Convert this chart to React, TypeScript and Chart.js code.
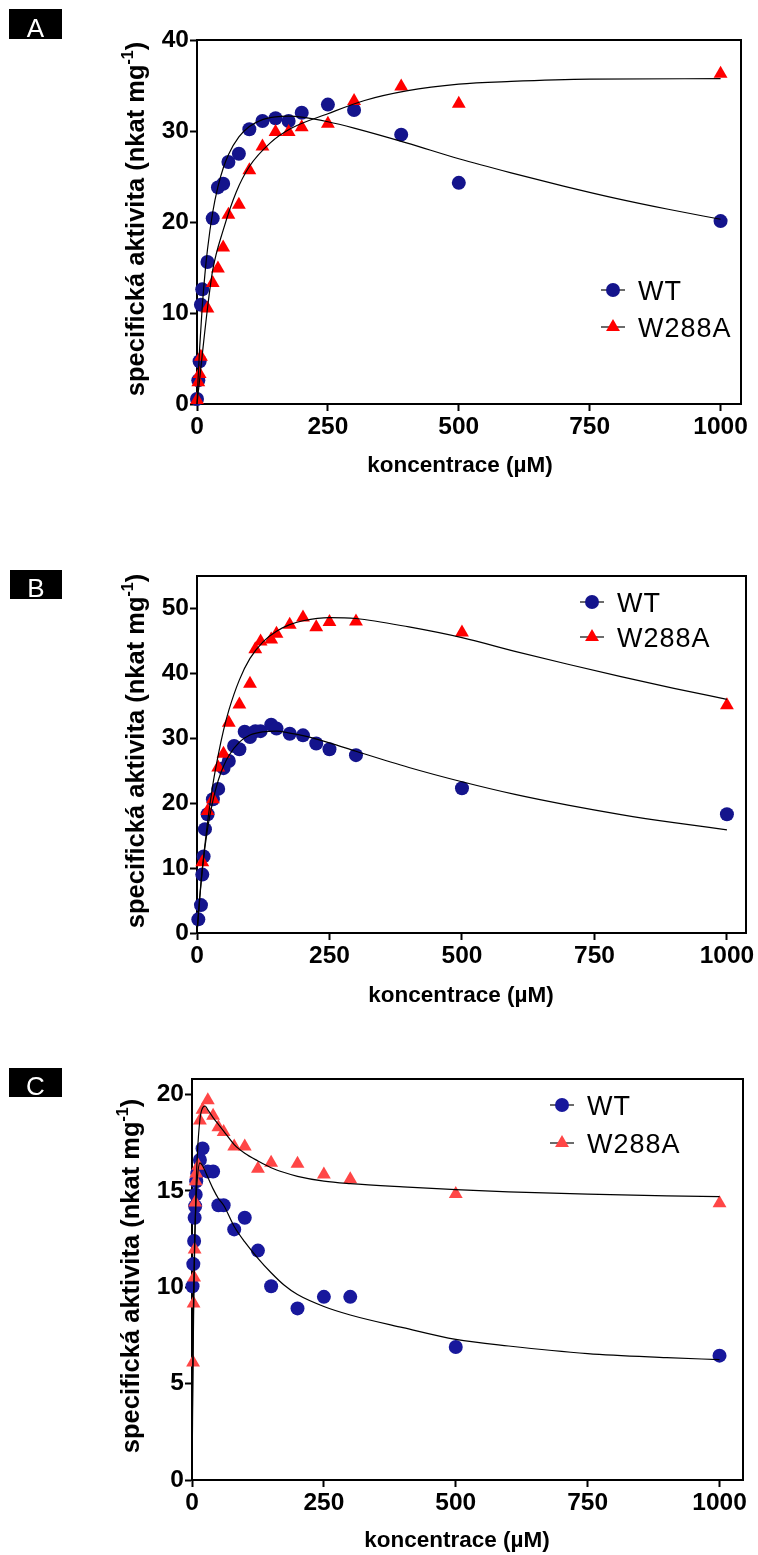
import React, { useEffect, useRef } from 'react';
import { Chart, registerables } from 'chart.js';
import { drawPoint } from 'chart.js/helpers';

Chart.register(...registerables);

const FONT = '"Liberation Sans", Arial, Helvetica, sans-serif';

// ---------- Panel A ----------
const aWtX = [0, 2.5, 5, 7.5, 10, 20, 30, 40, 50, 60, 80, 100, 125, 150, 175, 200, 250, 300, 390, 500, 1000];
const aWtY = [0.55, 2.6, 4.7, 10.9, 12.6, 15.6, 20.4, 23.8, 24.2, 26.6, 27.5, 30.2, 31.1, 31.4, 31.1, 32.0, 32.9, 32.3, 29.6, 24.3, 20.1];
const aMutX = [0, 2.5, 5, 7.5, 20, 30, 40, 50, 60, 80, 100, 125, 150, 175, 200, 250, 300, 390, 500, 1000];
const aMutY = [0.45, 2.4, 3.3, 5.2, 10.5, 13.3, 14.9, 17.2, 20.8, 21.9, 25.7, 28.3, 29.9, 29.9, 30.4, 30.8, 33.3, 34.9, 33.0, 36.3];
const aWtFitX = [0, 2, 5, 10, 15, 20, 30, 40, 50, 60, 80, 100, 125, 150, 175, 200, 250, 300, 400, 500, 600, 700, 800, 900, 1000];
const aWtFitY = [0, 2.67, 6.11, 10.67, 14.19, 16.98, 21.07, 23.89, 25.91, 27.4, 29.35, 30.49, 31.25, 31.56, 31.63, 31.53, 31.02, 30.32, 28.7, 26.95, 25.4, 23.95, 22.6, 21.4, 20.3];
const aMutFitX = [0, 5, 10, 20, 30, 50, 75, 100, 140, 180, 250, 320, 400, 500, 600, 750, 1000];
const aMutFitY = [0, 2.7, 5.4, 10.5, 14.7, 19.1, 23.3, 26.1, 28.7, 30.3, 31.9, 33.35, 34.4, 35.15, 35.45, 35.7, 35.75];

// ---------- Panel B ----------
const bWtX = [2.5, 7.5, 10, 12.5, 15, 20, 30, 40, 50, 60, 70, 80, 90, 100, 110, 120, 140, 150, 175, 200, 225, 250, 300, 500, 1000];
const bWtY = [2.1, 4.3, 9.0, 11.8, 16.0, 18.3, 20.6, 22.2, 25.4, 26.5, 28.8, 28.3, 31.0, 30.2, 31.1, 31.1, 32.1, 31.5, 30.7, 30.45, 29.2, 28.3, 27.4, 22.3, 18.3];
const bMutX = [10, 20, 30, 40, 50, 60, 80, 100, 110, 120, 140, 150, 175, 200, 225, 250, 300, 500, 1000];
const bMutY = [10.9, 18.8, 20.6, 25.5, 27.6, 32.4, 35.2, 38.4, 43.7, 44.9, 45.2, 46.1, 47.5, 48.6, 47.1, 47.9, 48.0, 46.3, 35.1];
const bWtFitX = [0, 5, 10, 20, 30, 40, 50, 60, 80, 100, 125, 150, 175, 200, 250, 300, 400, 500, 600, 700, 800, 900, 1000];
const bWtFitY = [0, 5.4, 9.8, 16.1, 20.4, 23.5, 25.7, 27.3, 29.4, 30.5, 31.0, 31.1, 30.8, 30.4, 29.3, 28.0, 25.5, 23.3, 21.35, 19.7, 18.25, 17.0, 15.9];
const bMutFitX = [0, 5, 10, 20, 30, 40, 50, 60, 80, 100, 125, 150, 175, 200, 250, 300, 400, 500, 600, 700, 800, 900, 1000];
const bMutFitY = [0, 5.2, 9.8, 17.1, 22.9, 27.4, 31.2, 34.3, 39.0, 42.3, 44.9, 46.5, 47.5, 48.1, 48.6, 48.45, 47.15, 45.5, 43.4, 41.4, 39.5, 37.7, 36.0];

// ---------- Panel C ----------
const cWtX = [1, 2.5, 4, 5, 6, 7, 8, 10, 15, 20, 30, 40, 50, 60, 80, 100, 125, 150, 200, 250, 300, 500, 1000];
const cWtY = [10.05, 11.2, 12.4, 13.6, 14.2, 14.8, 15.5, 15.9, 16.6, 17.2, 16.0, 16.0, 14.25, 14.25, 13.0, 13.6, 11.9, 10.05, 8.9, 9.5, 9.5, 6.9, 6.45];
const cMutX = [2, 3, 4, 5, 6, 7, 8, 12, 15, 20, 30, 40, 50, 60, 80, 100, 125, 150, 200, 250, 300, 500, 1000];
const cMutY = [6.1, 9.15, 10.5, 11.95, 14.4, 15.5, 15.9, 16.3, 18.65, 19.2, 19.7, 18.9, 18.3, 18.05, 17.3, 17.3, 16.15, 16.45, 16.4, 15.84, 15.6, 14.83, 14.36];
const cWtFitX = [0, 0.5, 1, 2, 3, 5, 7.5, 10, 15, 20, 30, 40, 50, 60, 80, 100, 125, 150, 175, 200, 250, 300, 400, 500, 600, 750, 900, 1000];
const cWtFitY = [0, 2.5, 4.5, 7.5, 9.6, 12.4, 14.4, 15.6, 16.45, 16.3, 15.7, 15.1, 14.6, 14.25, 13.15, 12.35, 11.5, 10.75, 10.1, 9.62, 9.0, 8.56, 7.9, 7.29, 6.95, 6.56, 6.35, 6.24];
const cMutFitX = [0, 1, 2, 3, 5, 7.5, 10, 15, 20, 25, 30, 40, 50, 60, 80, 100, 125, 150, 175, 200, 250, 300, 400, 500, 600, 750, 900, 1000];
const cMutFitY = [0, 3, 6, 8.5, 12, 15, 16.8, 18.7, 19.3, 19.4, 19.2, 18.8, 18.45, 18.1, 17.4, 16.95, 16.55, 16.2, 15.95, 15.75, 15.5, 15.37, 15.2, 15.06, 14.95, 14.83, 14.74, 14.7];

// ---------- shared labels ----------
const xTicks = [0, 250, 500, 750, 1000];
const yTicksA = [0, 10, 20, 30, 40];
const yTicksB = [0, 10, 20, 30, 40, 50];
const yTicksC = [0, 5, 10, 15, 20];
const seriesNames = ['WT', 'W288A'];
const xTitle = 'koncentrace (µM)';
const yTitleMain = 'specifická aktivita (nkat mg';
const yTitleSup = '-1';
const yTitleTail = ')';

type Box = { left: number; top: number; right: number; bottom: number };
type PanelDef = {
  tag: string;
  canvasTop: number;
  canvasHeight: number;
  area: Box;
  xMax: number;
  yMax: number;
  yTicks: number[];
  wt: [number[], number[]];
  mut: [number[], number[]];
  wtFit: [number[], number[]];
  mutFit: [number[], number[]];
  navy: string;
  red: string;
  xTitlePos: [number, number];
  yTitlePos: [number, number];
  legend: { x: number; y: number; gap: number; half: number; textX: number };
  tagBox: { left: number; top: number; width: number; height: number };
};

const panels: PanelDef[] = [
  {
    tag: 'A', canvasTop: 0, canvasHeight: 520,
    area: { left: 197, top: 40, right: 741, bottom: 404 },
    xMax: 1039, yMax: 40, yTicks: yTicksA,
    wt: [aWtX, aWtY], mut: [aMutX, aMutY], wtFit: [aWtFitX, aWtFitY], mutFit: [aMutFitX, aMutFitY],
    navy: '#14148c', red: '#ff0000',
    xTitlePos: [460, 466], yTitlePos: [137, 219],
    legend: { x: 613, y: 290, gap: 37, half: 12, textX: 638 },
    tagBox: { left: 9, top: 9, width: 53, height: 30 },
  },
  {
    tag: 'B', canvasTop: 520, canvasHeight: 520,
    area: { left: 197, top: 576, right: 746, bottom: 933 },
    xMax: 1036, yMax: 55, yTicks: yTicksB,
    wt: [bWtX, bWtY], mut: [bMutX, bMutY], wtFit: [bWtFitX, bWtFitY], mutFit: [bMutFitX, bMutFitY],
    navy: '#14148c', red: '#ff0000',
    xTitlePos: [461, 996], yTitlePos: [137, 751],
    legend: { x: 592, y: 602, gap: 35, half: 12, textX: 617 },
    tagBox: { left: 10, top: 570, width: 52, height: 29 },
  },
  {
    tag: 'C', canvasTop: 1040, canvasHeight: 515,
    area: { left: 192, top: 1079, right: 743, bottom: 1480 },
    xMax: 1044.5, yMax: 20.8, yTicks: yTicksC,
    wt: [cWtX, cWtY], mut: [cMutX, cMutY], wtFit: [cWtFitX, cWtFitY], mutFit: [cMutFitX, cMutFitY],
    navy: '#18189c', red: '#ff4646',
    xTitlePos: [457, 1541], yTitlePos: [132, 1276],
    legend: { x: 562, y: 1105, gap: 38, half: 12, textX: 587 },
    tagBox: { left: 9, top: 1068, width: 53, height: 29 },
  },
];

const toPoints = (xs: number[], ys: number[]) => xs.map((x, i) => ({ x, y: ys[i] }));

// Top and right edges of the plot frame
const framePlugin = {
  id: 'plotFrame',
  beforeDatasetsDraw(chart: any) {
    const { ctx, chartArea: a } = chart;
    ctx.save();
    ctx.strokeStyle = '#000';
    ctx.lineWidth = 2;
    ctx.lineCap = 'square';
    ctx.beginPath();
    ctx.moveTo(a.left, a.top);
    ctx.lineTo(a.right, a.top);
    ctx.lineTo(a.right, a.bottom);
    ctx.stroke();
    ctx.restore();
  },
};

// Axis titles, with a true superscript in the y title
function makeTitlePlugin(p: PanelDef) {
  return {
    id: 'axisTitles',
    afterDraw(chart: any) {
      const ctx = chart.ctx;
      const off = p.canvasTop;
      ctx.save();
      ctx.fillStyle = '#000';
      ctx.font = `bold 22.5px ${FONT}`;
      ctx.textAlign = 'center';
      ctx.textBaseline = 'middle';
      ctx.fillText(xTitle, p.xTitlePos[0], p.xTitlePos[1] - off);

      const size = 25.5;
      const supSize = 16;
      ctx.translate(p.yTitlePos[0], p.yTitlePos[1] - off);
      ctx.rotate(-Math.PI / 2);
      ctx.textAlign = 'left';
      ctx.textBaseline = 'alphabetic';
      ctx.font = `bold ${size}px ${FONT}`;
      const w1 = ctx.measureText(yTitleMain).width;
      const w3 = ctx.measureText(yTitleTail).width;
      ctx.font = `bold ${supSize}px ${FONT}`;
      const w2 = ctx.measureText(yTitleSup).width;
      let x = -(w1 + w2 + w3) / 2;
      const base = size * 0.255;
      ctx.font = `bold ${size}px ${FONT}`;
      ctx.fillText(yTitleMain, x, base);
      x += w1;
      ctx.font = `bold ${supSize}px ${FONT}`;
      ctx.fillText(yTitleSup, x, base - size * 0.42);
      x += w2;
      ctx.font = `bold ${size}px ${FONT}`;
      ctx.fillText(yTitleTail, x, base);
      ctx.restore();
    },
  };
}

// Legend: short line through the marker, then the series name
function makeLegendPlugin(p: PanelDef) {
  const items = [
    { text: seriesNames[0], style: 'circle', radius: 7, color: p.navy },
    { text: seriesNames[1], style: 'triangle', radius: 8, color: p.red },
  ];
  return {
    id: 'markerLegend',
    afterDatasetsDraw(chart: any) {
      const ctx = chart.ctx;
      const L = p.legend;
      ctx.save();
      items.forEach((it, i) => {
        const cy = L.y + i * L.gap - p.canvasTop;
        ctx.strokeStyle = '#3a3a3a';
        ctx.lineWidth = 1.5;
        ctx.beginPath();
        ctx.moveTo(L.x - L.half, cy);
        ctx.lineTo(L.x + L.half, cy);
        ctx.stroke();
        ctx.fillStyle = it.color;
        drawPoint(ctx, { pointStyle: it.style, radius: it.radius, rotation: 0, borderWidth: 0 } as any, L.x, cy);
        ctx.fillStyle = '#000';
        ctx.font = `27px ${FONT}`;
        (ctx as any).letterSpacing = '1px';
        ctx.textAlign = 'left';
        ctx.textBaseline = 'alphabetic';
        ctx.fillText(it.text, L.textX, cy + 27 * 0.36);
      });
      ctx.restore();
    },
  };
}

function buildConfig(p: PanelDef): any {
  const areaTop = p.area.top - p.canvasTop;
  const areaBottom = p.area.bottom - p.canvasTop;
  const xHeight = p.canvasHeight - areaBottom;
  const tickFont = { family: FONT, size: 24.5, weight: 'bold' as const };
  const plain = (v: number | string) => String(v);
  const fitStyle = {
    type: 'line',
    showLine: true,
    borderColor: '#000',
    borderWidth: 1.2,
    pointRadius: 0,
    cubicInterpolationMode: 'monotone',
    fill: false,
    clip: false,
  };
  return {
    type: 'line',
    data: {
      datasets: [
        { ...fitStyle, label: seriesNames[0] + ' fit', data: toPoints(p.wtFit[0], p.wtFit[1]) },
        { ...fitStyle, label: seriesNames[1] + ' fit', data: toPoints(p.mutFit[0], p.mutFit[1]) },
        {
          label: seriesNames[1], data: toPoints(p.mut[0], p.mut[1]), showLine: false,
          pointStyle: 'triangle', pointRadius: 8, backgroundColor: p.red, borderWidth: 0,
          pointBackgroundColor: p.red, pointBorderWidth: 0, clip: false,
        },
        {
          label: seriesNames[0], data: toPoints(p.wt[0], p.wt[1]), showLine: false,
          pointStyle: 'circle', pointRadius: 7, backgroundColor: p.navy, borderWidth: 0,
          pointBackgroundColor: p.navy, pointBorderWidth: 0, clip: false,
        },
      ],
    },
    options: {
      responsive: false,
      maintainAspectRatio: false,
      animation: false,
      events: [],
      layout: { padding: { left: 0, top: areaTop, right: 758 - p.area.right, bottom: 0 } },
      plugins: { legend: { display: false }, tooltip: { enabled: false }, title: { display: false } },
      scales: {
        x: {
          type: 'linear', min: 0, max: p.xMax,
          afterBuildTicks: (s: any) => { s.ticks = xTicks.map((v) => ({ value: v })); },
          afterFit: (s: any) => { s.height = xHeight; },
          ticks: { font: tickFont, color: '#000', padding: 2, autoSkip: false, maxRotation: 0, callback: plain },
          grid: { drawOnChartArea: false, drawTicks: true, tickLength: 7, tickColor: '#000', tickWidth: 2, color: '#000' },
          border: { display: true, color: '#000', width: 2 },
        },
        y: {
          type: 'linear', min: 0, max: p.yMax,
          afterBuildTicks: (s: any) => { s.ticks = p.yTicks.map((v) => ({ value: v })); },
          afterFit: (s: any) => { s.width = p.area.left; },
          ticks: { font: tickFont, color: '#000', padding: 1, callback: plain },
          grid: { drawOnChartArea: false, drawTicks: true, tickLength: 7, tickColor: '#000', tickWidth: 2, color: '#000' },
          border: { display: true, color: '#000', width: 2 },
        },
      },
    },
    plugins: [framePlugin, makeTitlePlugin(p), makeLegendPlugin(p)],
  };
}

function Panel({ p }: { p: PanelDef }) {
  const ref = useRef<HTMLCanvasElement | null>(null);
  useEffect(() => {
    if (!ref.current) return;
    const chart = new Chart(ref.current, buildConfig(p));
    return () => chart.destroy();
  }, [p]);
  return (
    <>
      <canvas
        ref={ref}
        width={758}
        height={p.canvasHeight}
        style={{ position: 'absolute', left: 0, top: p.canvasTop, width: 758, height: p.canvasHeight, display: 'block' }}
      />
      <div
        style={{
          position: 'absolute', left: p.tagBox.left, top: p.tagBox.top,
          width: p.tagBox.width, height: p.tagBox.height, background: '#000',
        }}
      >
        <span
          style={{
            position: 'absolute', left: 0, right: 0, top: p.tagBox.height - 2 - 22,
            textAlign: 'center', color: '#fff', fontFamily: FONT, fontSize: 26, lineHeight: '26px',
          }}
        >
          {p.tag}
        </span>
      </div>
    </>
  );
}

export default function App() {
  return (
    <div style={{ position: 'absolute', left: 0, top: 0, width: 758, height: 1555, overflow: 'hidden', background: '#fff' }}>
      {panels.map((p) => (
        <Panel key={p.tag} p={p} />
      ))}
    </div>
  );
}
